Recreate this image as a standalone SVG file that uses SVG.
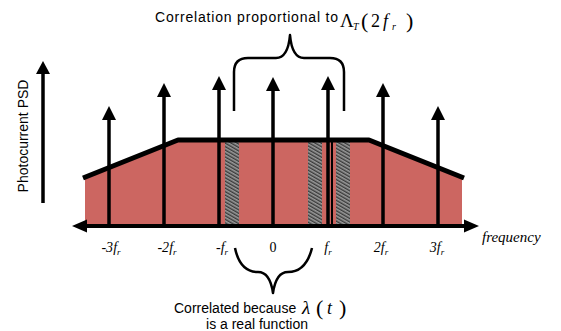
<svg xmlns="http://www.w3.org/2000/svg" width="561" height="331" viewBox="0 0 561 331">
<style>
.lbl{font-family:"Liberation Sans","Open Sans",sans-serif;font-size:14px;fill:#000}
.mth{font-family:"Liberation Serif","DejaVu Serif",serif;fill:#000}
.it{font-style:italic}
.stem{stroke:#000;stroke-width:3.5;fill:none}
.brace{stroke:#000;stroke-width:2.5;fill:none;stroke-linejoin:round}
</style>
<defs>
<pattern id="hatch" width="3" height="3" patternUnits="userSpaceOnUse" patternTransform="rotate(-60)">
<rect width="3" height="3" fill="#9a9a9a"/>
<rect width="1.4" height="3" fill="#3a3a3a"/>
</pattern>
</defs>
<g id="psd">
<polygon points="85,177 178,140 369,140 462,177 462,225 85,225" fill="#cc6661"/>
<rect x="225" y="142" width="14" height="83" fill="url(#hatch)"/>
<rect x="308" y="142" width="14" height="83" fill="url(#hatch)"/>
<rect x="336" y="142" width="14" height="83" fill="url(#hatch)"/>
<line x1="332" y1="142" x2="332" y2="225" stroke="#000" stroke-width="2"/>
<polyline points="83,178 178,140 369,140 464,178" fill="none" stroke="#000" stroke-width="5" stroke-linejoin="round"/>
</g>
<g id="axes">
<line x1="80" y1="226" x2="472" y2="226" stroke="#000" stroke-width="4"/>
<path d="M72,226 L87,219.5 L87,232.5 Z" fill="#000"/>
<path d="M479,226 L464,219.5 L464,232.5 Z" fill="#000"/>
<line x1="43" y1="203" x2="43" y2="72" stroke="#000" stroke-width="3.5"/>
<path d="M43,61 L50,74 L36,74 Z" fill="#000"/>
</g>
<g id="impulses">
<g id="m3"><line class="stem" x1="109" y1="225" x2="109" y2="117"/><path d="M109,106 L116,120 L102,120 Z"/></g>
<g id="m2"><line class="stem" x1="164" y1="225" x2="164" y2="94"/><path d="M164,83 L171,97 L157,97 Z"/></g>
<g id="m1"><line class="stem" x1="219" y1="225" x2="219" y2="87"/><path d="M219,76 L226,90 L212,90 Z"/></g>
<g id="z0"><line class="stem" x1="273" y1="225" x2="273" y2="88"/><path d="M273,77 L280,91 L266,91 Z"/></g>
<g id="p1"><line class="stem" x1="328" y1="225" x2="328" y2="87"/><path d="M328,76 L335,90 L321,90 Z"/></g>
<g id="p2"><line class="stem" x1="383" y1="225" x2="383" y2="94"/><path d="M383,83 L390,97 L376,97 Z"/></g>
<g id="p3"><line class="stem" x1="438" y1="225" x2="438" y2="117"/><path d="M438,106 L445,120 L431,120 Z"/></g>
</g>
<g id="braces">
<path class="brace" d="M234,111 V72 Q234,58 248,58 H276 Q288,58 290,35 Q292,58 304,58 H330 Q344,58 344,72 V111"/>
<path class="brace" stroke-width="3" d="M235,248 Q240,272 258,272 Q270,272 273,293 Q276,272 288,272 Q306,272 312,248"/>
</g>
<g id="ticks" class="mth it" font-size="14">
<text x="111" y="252" text-anchor="middle">-3<tspan>f</tspan><tspan font-size="9" dy="3">r</tspan></text>
<text x="167" y="252" text-anchor="middle">-2<tspan>f</tspan><tspan font-size="9" dy="3">r</tspan></text>
<text x="222" y="252" text-anchor="middle">-<tspan>f</tspan><tspan font-size="9" dy="3">r</tspan></text>
<text x="273" y="252" text-anchor="middle" font-style="normal">0</text>
<text x="328" y="252" text-anchor="middle">f<tspan font-size="9" dy="3">r</tspan></text>
<text x="381" y="252" text-anchor="middle">2f<tspan font-size="9" dy="3">r</tspan></text>
<text x="437" y="252" text-anchor="middle">3f<tspan font-size="9" dy="3">r</tspan></text>
<text x="482" y="242" font-size="15">frequency</text>
</g>
<g id="title">
<text class="lbl" x="155" y="22" font-size="15.5" textLength="183">Correlation proportional to</text>
<text class="mth" x="340" y="27" font-size="19">Λ</text>
<text class="mth it" x="353" y="30" font-size="10">T</text>
<text class="mth" x="361" y="28" font-size="22">(</text>
<text class="mth" x="371" y="27" font-size="18">2</text>
<text class="mth it" x="383" y="27" font-size="18">f</text>
<text class="mth it" x="392" y="30" font-size="10">r</text>
<text class="mth" x="406" y="28" font-size="22">)</text>
</g>
<g id="bottomlabel">
<text class="lbl" x="174" y="313" font-size="15">Correlated because</text>
<text class="mth it" x="302" y="314" font-size="19">λ</text>
<text class="mth" x="316" y="315" font-size="22">(</text>
<text class="mth it" x="327" y="314" font-size="18">t</text>
<text class="mth" x="339" y="315" font-size="22">)</text>
<text class="lbl" x="257" y="329" font-size="15" text-anchor="middle">is a real function</text>
</g>
<g id="ylabel">
<text class="lbl" x="0" y="0" font-size="14" text-anchor="middle" transform="translate(28,136) rotate(-90)">Photocurrent PSD</text>
</g>
</svg>
